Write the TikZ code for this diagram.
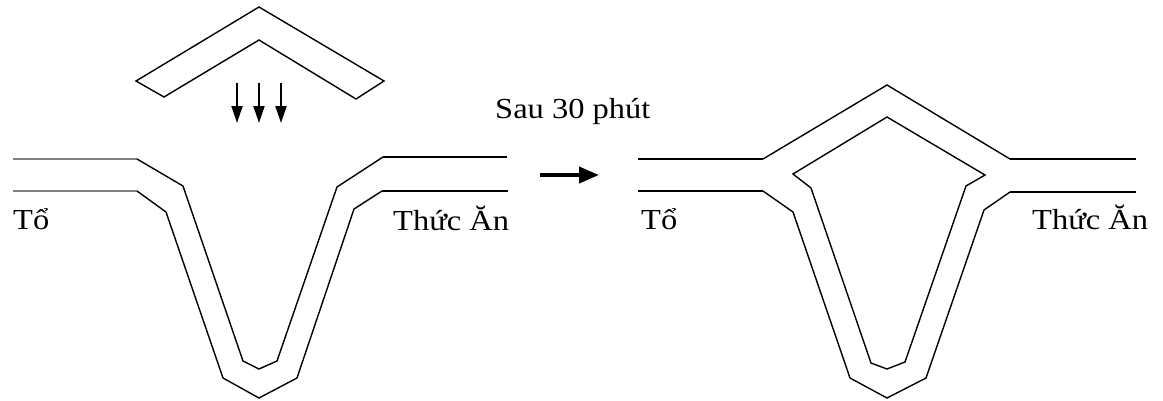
\documentclass[tikz,border=0pt]{standalone}
\usepackage{fontspec}
\setmainfont[FakeStretch=1.12]{Liberation Serif}
\usetikzlibrary{arrows.meta}
\definecolor{tunnelgray}{RGB}{128,128,128}
\tikzset{
  wall/.style={line width=1.4pt, line join=miter},
  rail/.style={line width=2.6pt},
  oldrail/.style={line width=2.4pt, draw=tunnelgray},
  label/.style={inner sep=0pt, anchor=base west, font=\fontsize{29}{34}\selectfont},
  droparrow/.style={line width=2pt, -{Triangle[length=17pt,width=11pt]}},
  steparrow/.style={line width=4pt, -{Triangle[length=20pt,width=16pt]}}
}
\begin{document}
\begin{tikzpicture}[x=1pt,y=-1pt]
\useasboundingbox (0,0) rectangle (1163,400);

% ---- left: tunnel being blocked by the falling cover ----
% cover plate
\draw[wall] (136,81) -- (259,7) -- (384,81) -- (356,99) -- (259,40) -- (164,97) -- cycle;
% falling direction
\foreach \x/\n in {237/a,259/b,281/c}{
  \coordinate (ds\n) at (\x,83);
  \coordinate (de\n) at (\x,123);
  \draw[droparrow] (ds\n) -- (de\n);
}
% nest side rails (old path)
\draw[oldrail] (13,159) -- (137,159);
\draw[oldrail] (13,191) -- (137,191);
% food side rails
\draw[rail] (383,157) -- (507,157);
\draw[rail] (382,191) -- (508,191);
% V-shaped tunnel walls
\draw[wall] (137,159) -- (183,186) -- (243,361) -- (259,369) -- (277,361) -- (337,187) -- (383,157);
\draw[wall] (137,191) -- (166,212) -- (223,378) -- (259,398) -- (297,378) -- (354,209) -- (382,191);

\node[label] (nestA) at (13,229) {Tổ};
\node[label] (foodA) at (393,230) {Thức Ăn};

% ---- transition ----
\node[label] (time) at (495,118) {Sau 30 phút};
\coordinate (ts) at (540,175);
\coordinate (te) at (599,175);
\draw[steparrow] (ts) -- (te);

% ---- right: shortcut over the top after 30 minutes ----
\draw[rail] (638,159) -- (763,159);
\draw[rail] (638,191) -- (763,191);
\draw[rail] (1010,159) -- (1136,159);
\draw[rail] (1010,192) -- (1136,192);
% outer roof of the shortcut
\draw[wall] (763,159) -- (887,85) -- (1010,159);
% inner island
\draw[wall] (793,174) -- (887,117) -- (985,175) -- (966,186) -- (905,362) -- (887,369) -- (871,363) -- (811,188) -- cycle;
% lower V wall
\draw[wall] (763,191) -- (793,212) -- (850,378) -- (887,398) -- (926,378) -- (984,210) -- (1010,192);

\node[label] (nestB) at (641,229) {Tổ};
\node[label] (foodB) at (1032,229) {Thức Ăn};
\end{tikzpicture}
\end{document}
